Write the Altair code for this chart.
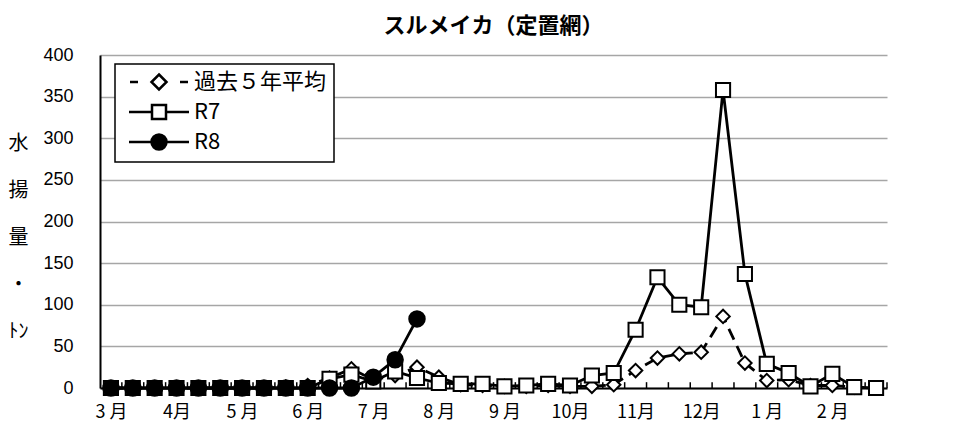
import altair as alt
import pandas as pd

# ---- data ----
months = ["3 月", "4月", "5 月", "6 月", "7 月", "8 月", "9 月", "10月", "11月", "12月", "1 月", "2 月"]
periods_per_month = 3
series_names = ["過去５年平均", "R7", "R8"]

avg5 = [0, 0, 0, 0, 0, 0, 0, 0, 1, 3, 12, 23, 10, 15, 25, 13, 4, 3,
        2, 2, 3, 2, 2, 4, 21, 36, 41, 43, 86, 30, 9, 10, 3, 3, 1, 0]
r7 = [0, 0, 0, 0, 0, 0, 0, 0, 0, 0, 11, 16, 8, 20, 12, 6, 5, 5,
      2, 3, 5, 3, 15, 18, 70, 133, 100, 97, 358, 137, 29, 18, 2, 17, 1, 0]
r8 = [0, 0, 0, 0, 0, 0, 0, 0, 0, 0, 0, 0, 13, 34, 83]

title_text = "スルメイカ（定置網）"
y_title = ["水", "揚", "量", "・", "ﾄﾝ"]
y_ticks = [0, 50, 100, 150, 200, 250, 300, 350, 400]

# ---- tables ----
rows = []
for name, vals in zip(series_names, [avg5, r7, r8]):
    for i, v in enumerate(vals):
        rows.append({"series": name, "idx": i, "pos": i + 0.5, "value": v})
df = pd.DataFrame(rows)

n = len(months) * periods_per_month
# inward category-boundary tick marks (structural, derived from the category count)
ticks_df = pd.DataFrame({"pos": list(range(1, n + 1)), "value": 0, "value2": 7})
legend_df = pd.DataFrame({"series": series_names})

label_expr = ("[" + ",".join(f"'{m}'" for m in months) + "]"
              + f"[floor(datum.value / {periods_per_month})]")

JP = "Noto Sans CJK JP"

x_enc = alt.X("pos:Q",
              scale=alt.Scale(domain=[0, n], nice=False, zero=False),
              axis=alt.Axis(values=[k * periods_per_month + 0.5 for k in range(len(months))],
                            labelExpr=label_expr, ticks=False, grid=False,
                            domainColor="black", domainWidth=2,
                            labelFont=JP, labelFontSize=18, labelColor="black",
                            labelPadding=15, title=None))
y_enc = alt.Y("value:Q",
              scale=alt.Scale(domain=[0, 400], nice=False),
              axis=alt.Axis(values=y_ticks, ticks=False, grid=True,
                            gridColor="#a6a6a6", gridWidth=1.5,
                            domainColor="black", domainWidth=2,
                            labelFont="Liberation Sans", labelFontSize=18,
                            labelColor="black", labelPadding=27,
                            title=y_title, titleAngle=0, titleFont=JP,
                            titleFontSize=20, titleFontWeight="normal",
                            titleColor="black", titleLineHeight=47,
                            titleAlign="center", titleBaseline="middle",
                            titleX=-82, titleY=88))

base = alt.Chart(df)


def series_layers(name, dash, shape, size, fill):
    d = base.transform_filter(alt.datum.series == name)
    line_kw = dict(color="black", strokeWidth=2.8)
    if dash:
        line_kw["strokeDash"] = dash
    line = d.mark_line(**line_kw).encode(x=x_enc, y=y_enc)
    pts = d.mark_point(shape=shape, size=size, filled=True, fill=fill,
                       stroke="black", strokeWidth=2, opacity=1).encode(x=x_enc, y=y_enc)
    return [line, pts]


legend_paths = [
    "M-29,0L-21,0M21,0L29,0M0,-7.5L7.5,0L0,7.5L-7.5,0Z",
    "M-30,0L-7,0M7,0L30,0M-7,-7L7,-7L7,7L-7,7Z",
    "M-30,0L-7.5,0M7.5,0L30,0M-7.5,0A7.5,7.5,0,1,0,7.5,0A7.5,7.5,0,1,0,-7.5,0Z",
]
leg = alt.Legend(title=None, orient="none", legendX=15, legendY=9,
                 symbolSize=4, symbolOffset=26, symbolStrokeWidth=2.5,
                 symbolStrokeColor="black", symbolOpacity=1,
                 labelFont=JP, labelFontSize=22, labelColor="black",
                 labelOffset=24, rowPadding=5, padding=7,
                 strokeColor="black", fillColor="white")

legend_layer = alt.Chart(legend_df).mark_point(
    filled=True, strokeWidth=2, opacity=0
).encode(
    shape=alt.Shape("series:N", scale=alt.Scale(domain=series_names, range=legend_paths), legend=leg),
    fill=alt.Fill("series:N", scale=alt.Scale(domain=series_names, range=["white", "white", "black"]), legend=leg),
    stroke=alt.Stroke("series:N", scale=alt.Scale(domain=series_names, range=["black", "black", "black"]), legend=leg),
)

ticks = alt.Chart(ticks_df).mark_rule(color="black", strokeWidth=1.5).encode(
    x=x_enc, y=y_enc, y2=alt.Y2("value2:Q"),
)

layers = [legend_layer, ticks]
layers += series_layers(series_names[0], [12, 7], "diamond", 180, "white")
layers += series_layers(series_names[1], None, "square", 200, "white")
layers += series_layers(series_names[2], None, "circle", 240, "black")

chart = alt.layer(*layers).properties(
    width=787, height=333,
    title=alt.TitleParams(title_text, font=JP, fontSize=22, fontWeight="bold",
                          color="black", anchor="middle", offset=8),
    autosize=alt.AutoSizeParams(type="none"),
    padding={"left": 92, "top": 47, "right": 40, "bottom": 37},
    background="white",
).configure_view(stroke=None).configure_legend(strokeWidth=1.5)

chart.save("out.html", embed_options={"renderer": "svg", "actions": False})
